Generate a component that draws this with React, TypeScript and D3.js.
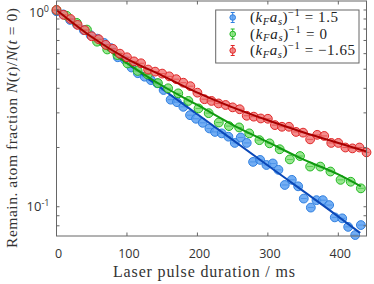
import * as d3 from "d3";
import React from "react";

// data (t in ms, remaining atom fraction)
const redT = [0, 10, 20, 30, 40, 50, 60, 70, 80, 90, 100, 110, 120, 130, 140, 150, 160, 170, 180, 190, 200, 210, 220, 230, 240, 250, 260, 270, 280, 290, 300, 310, 320, 330, 340, 350, 360, 370, 380, 390, 400, 410, 420, 430, 440];
const redV = [1.0, 0.945, 0.9, 0.84, 0.79, 0.735, 0.71, 0.665, 0.635, 0.6, 0.575, 0.548, 0.536, 0.498, 0.486, 0.475, 0.46, 0.445, 0.427, 0.41, 0.38, 0.352, 0.345, 0.335, 0.329, 0.32, 0.313, 0.29, 0.287, 0.281, 0.28, 0.26, 0.255, 0.255, 0.24, 0.238, 0.22, 0.232, 0.229, 0.211, 0.211, 0.2, 0.198, 0.2, 0.189];

const greenT = [0, 14.4, 28.8, 43.2, 57.6, 72, 86.4, 100.8, 115.2, 129.6, 144, 158.4, 172.8, 187.2, 201.6, 216, 230.4, 244.8, 259.2, 273.6, 288, 302.4, 316.8, 331.2, 345.6, 360, 374.4, 388.8, 403.2, 417.6, 432];
const greenV = [1.0, 0.935, 0.86, 0.795, 0.69, 0.63, 0.59, 0.535, 0.49, 0.47, 0.425, 0.4, 0.377, 0.345, 0.316, 0.299, 0.268, 0.257, 0.253, 0.236, 0.218, 0.21, 0.196, 0.174, 0.181, 0.16, 0.16, 0.151, 0.137, 0.134, 0.124];

const blueT = [0, 9.7, 19.4, 29, 38.7, 48.4, 58, 67.7, 77.4, 87, 96.8, 106.5, 115.5, 125, 134, 143, 152, 162, 171, 180, 189.5, 198, 207.5, 217, 225, 234.5, 244, 253, 261.5, 270, 279, 289, 298, 307, 315, 324, 334, 343, 351, 361, 369, 378, 387, 395, 405.5, 414, 424, 432];
const blueV = [0.985, 0.95, 0.89, 0.845, 0.79, 0.745, 0.715, 0.68, 0.64, 0.575, 0.56, 0.51, 0.477, 0.458, 0.44, 0.424, 0.392, 0.35, 0.34, 0.322, 0.292, 0.28, 0.267, 0.25, 0.24, 0.236, 0.227, 0.211, 0.225, 0.211, 0.169, 0.173, 0.163, 0.166, 0.154, 0.129, 0.137, 0.127, 0.11, 0.099, 0.108, 0.108, 0.102, 0.0883, 0.0873, 0.079, 0.0718, 0.0807];

// fit curves
const redFitT = [0, 50, 100, 150, 200, 250, 300, 350, 400, 440];
const redFitV = [1.0, 0.729, 0.565, 0.464, 0.38, 0.32, 0.275, 0.239, 0.211, 0.191];
const greenFitT = [0, 50, 100, 150, 200, 250, 300, 350, 400, 432];
const greenFitV = [1.0, 0.724, 0.537, 0.412, 0.329, 0.261, 0.213, 0.174, 0.146, 0.127];
const blueFitT = [0, 100, 200, 300, 400, 431];
const blueFitV = [1.0, 0.537, 0.295, 0.162, 0.0891, 0.0736];

const xTicks = [0, 100, 200, 300, 400];
const yMinor = [0.08, 0.09, 0.2, 0.3, 0.4, 0.5, 0.6, 0.7, 0.8, 0.9];
const legendValues = ["1.5", "0", "\u22121.65"];

const series = [
  { t: blueT, v: blueV, ft: blueFitT, fv: blueFitV, fill: "#5aa0f2", edge: "#2f7fe0", line: "#0a48b8" },
  { t: greenT, v: greenV, ft: greenFitT, fv: greenFitV, fill: "#86e27c", edge: "#22b822", line: "#0f9a0f" },
  { t: redT, v: redV, ft: redFitT, fv: redFitV, fill: "#f27a7a", edge: "#e02626", line: "#a80000" },
];

const serif = "'Liberation Serif', 'DejaVu Serif', serif";
const sans = "'Open Sans', 'DejaVu Sans', sans-serif";

export default function App() {
  const left = 56.5, right = 366.5, top = 1, bottom = 236;
  const x = d3.scaleLinear().domain([0, 440]).range([left, right]);
  const y = d3.scaleLog().domain([0.071, 1.111]).range([bottom, top]);
  const axisColor = "#666";
  const r = 4.4;
  const legendWidths = [88, 77, 105];

  const line = (ts: number[], vs: number[]) =>
    d3.line<number>()
      .x((d, i) => x(ts[i]))
      .y((d) => y(d))
      .curve(d3.curveMonotoneX)(vs) || "";

  return (
    <svg width={374} height={284} style={{ position: "absolute", left: 0, top: 0, background: "#fff" }}>
      {/* data */}
      {series.map((s, k) => (
        <g key={k}>
          {s.v.map((d, i) => (
            <g key={i}>
              <circle cx={x(s.t[i])} cy={y(d)} r={r} fill={s.fill} fillOpacity={0.85} stroke={s.edge} strokeWidth={1} />
              <line x1={x(s.t[i]) - 3} x2={x(s.t[i]) + 3} y1={y(d)} y2={y(d)} stroke={s.edge} strokeWidth={0.8} opacity={0.7} />
            </g>
          ))}
          <path d={line(s.ft, s.fv)} fill="none" stroke={s.line} strokeWidth={2} />
        </g>
      ))}

      {/* axes box */}
      <rect x={left} y={top} width={right - left} height={bottom - top} fill="none" stroke={axisColor} strokeWidth={1} />
      {xTicks.map((t) => (
        <g key={t}>
          <line x1={x(t)} x2={x(t)} y1={bottom} y2={bottom - 3.5} stroke={axisColor} />
          <line x1={x(t)} x2={x(t)} y1={top} y2={top + 3.5} stroke={axisColor} />
          <text x={x(t) + 2} y={258} textAnchor="middle" fontFamily={sans} fontSize={12.5} fill="#333">{t}</text>
        </g>
      ))}
      {[1, 0.1].concat(yMinor).map((v) => (
        <g key={v}>
          <line x1={left} x2={left + 3} y1={y(v)} y2={y(v)} stroke={axisColor} />
          <line x1={right} x2={right - 3} y1={y(v)} y2={y(v)} stroke={axisColor} />
        </g>
      ))}
      <text x={49} y={y(1) + 7.5} textAnchor="end" fontFamily={sans} fontSize={13} fill="#333">
        10<tspan fontSize={9} dy={-5.5}>0</tspan>
      </text>
      <text x={49.5} y={y(0.1) + 4.5} textAnchor="end" fontFamily={sans} fontSize={13} fill="#333">
        10<tspan fontSize={9} dy={-5.5}>-1</tspan>
      </text>

      {/* axis labels */}
      <text x={204} y={276.5} textAnchor="middle" fontFamily={serif} fontSize={16} fill="#333"
        textLength={182} lengthAdjust="spacing">Laser pulse duration / ms</text>
      <text transform="translate(17,128) rotate(-90)" textAnchor="middle" fontFamily={serif} fontSize={15.5} fill="#333"
        textLength={240} lengthAdjust="spacing">
        Remain. atom fraction <tspan fontStyle="italic">N</tspan>(<tspan fontStyle="italic">t</tspan>)/<tspan fontStyle="italic">N</tspan>(<tspan fontStyle="italic">t</tspan> = 0)
      </text>

      {/* legend */}
      <rect x={215.7} y={10} width={143.3} height={53} fill="#fff" stroke={axisColor} strokeWidth={1} />
      {series.map((s, i) => {
        const cy = 17.5 + i * 16.5;
        return (
          <g key={i}>
            <line x1={232.7} x2={232.7} y1={cy - 5} y2={cy + 5} stroke={s.edge} strokeWidth={1} />
            <line x1={230.7} x2={234.7} y1={cy - 5} y2={cy - 5} stroke={s.edge} strokeWidth={1} />
            <line x1={230.7} x2={234.7} y1={cy + 5} y2={cy + 5} stroke={s.edge} strokeWidth={1} />
            <circle cx={232.7} cy={cy} r={2.8} fill={s.fill} fillOpacity={0.85} stroke={s.edge} strokeWidth={1} />
            <text x={250} y={cy + 4.5} fontFamily={serif} fontSize={15} fill="#222"
              textLength={legendWidths[i]} lengthAdjust="spacing">
              (<tspan fontStyle="italic">k</tspan><tspan fontStyle="italic" fontSize={10.5} dy={2.5}>F</tspan><tspan fontStyle="italic" dy={-2.5}>a</tspan><tspan fontStyle="italic" fontSize={10.5} dy={2.5}>s</tspan><tspan dy={-2.5}>)</tspan><tspan fontSize={10.5} dy={-6}>{"\u22121"}</tspan><tspan dy={6}>{" = " + legendValues[i]}</tspan>
            </text>
          </g>
        );
      })}
    </svg>
  );
}
